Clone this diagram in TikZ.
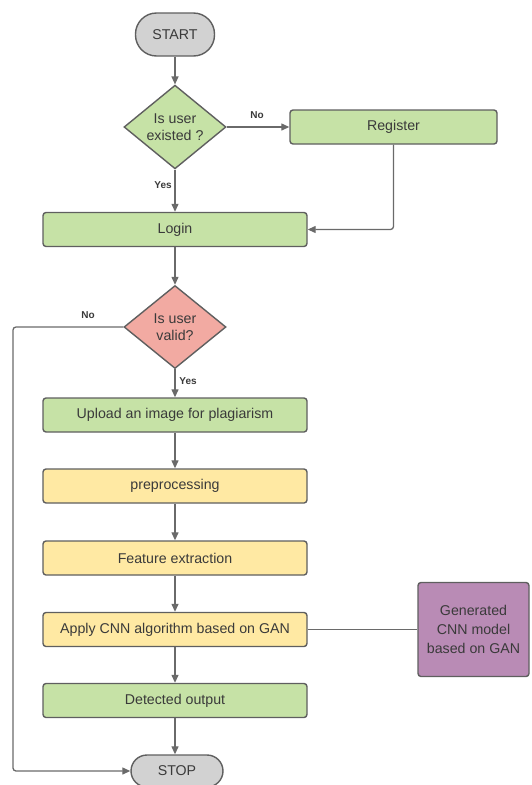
\documentclass[tikz,border=0pt]{standalone}
\usepackage{fontspec}
\setmainfont{Liberation Sans}
\usetikzlibrary{shapes.geometric,arrows.meta}
\definecolor{lgreen}{HTML}{C6E2A6}
\definecolor{lyellow}{HTML}{FFE9A3}
\definecolor{lpink}{HTML}{F2AAA2}
\definecolor{lpurple}{HTML}{B98BB5}
\definecolor{lgray}{HTML}{D2D2D2}
\definecolor{edgec}{HTML}{5F5F5F}
\definecolor{linec}{HTML}{6A6A6A}
\definecolor{txt}{HTML}{3A3A3A}
\begin{document}
\begin{tikzpicture}[x=1pt,y=-1pt,
  base/.style={draw=edgec, line width=1.4pt, text=txt, font=\fontsize{14.2}{17}\selectfont, inner sep=0pt, align=center},
  procbox/.style={base, rectangle, rounded corners=3pt, minimum width=264pt, minimum height=34pt},
  greenbox/.style={procbox, fill=lgreen},
  yellowbox/.style={procbox, fill=lyellow},
  terminal/.style={base, rectangle, fill=lgray},
  decision/.style={base, diamond, minimum width=102pt, minimum height=83pt},
  lbl/.style={text=txt, font=\fontsize{10}{12}\selectfont\bfseries, inner sep=0pt},
  conn/.style={draw=linec, line width=1.3pt},
  arr/.style={conn, -{Triangle[length=8pt,width=7pt]}}
]
\useasboundingbox (0,0) rectangle (531,785);

\node[terminal, rounded corners=21pt, minimum width=79pt, minimum height=43pt] (start) at (175,34.5) {START};
\node[decision, fill=lgreen] (d1) at (175,127) {Is user\\existed ?};
\node[greenbox, minimum width=207pt] (reg) at (393.5,127) {Register};
\node[greenbox] (login) at (175,229.5) {Login};
\node[decision, fill=lpink] (d2) at (175,327) {Is user\\valid?};
\node[greenbox] (upload) at (175,415) {Upload an image for plagiarism};
\node[yellowbox] (prep) at (175,486) {preprocessing};
\node[yellowbox] (feat) at (175,558) {Feature extraction};
\node[yellowbox] (apply) at (175,629.5) {Apply CNN algorithm based on GAN};
\node[greenbox] (det) at (175,700.5) {Detected output};
\node[terminal, rounded corners=16pt, minimum width=92pt, minimum height=32pt] (stop) at (177,771) {STOP};
\node[base, rectangle, rounded corners=3pt, fill=lpurple, minimum width=111pt, minimum height=94pt, font=\fontsize{14.2}{19}\selectfont] (gen) at (473.5,629.5) {Generated\\CNN model\\based on GAN};

\node[lbl] (no1) at (257,115) {No};
\node[lbl] (yes1) at (163,185) {Yes};
\node[lbl] (no2) at (88,315) {No};
\node[lbl] (yes2) at (188,381) {Yes};

\coordinate (c1) at (13,327);
\coordinate (c2) at (13,771);

\draw[arr] (start) -- (d1);
\draw[arr] (d1.east) -- (reg.west);
\draw[arr] (d1.south) -- (login.north);
\draw[arr, rounded corners=3pt] (reg.south) |- (login.east);
\draw[arr] (login) -- (d2);
\draw[arr, rounded corners=3pt] (d2.west) -- (c1) -- (c2) -- (stop.west);
\draw[arr] (d2.south) -- (upload.north);
\draw[arr] (upload) -- (prep);
\draw[arr] (prep) -- (feat);
\draw[arr] (feat) -- (apply);
\draw[arr] (apply) -- (det);
\draw[arr] (det) -- (stop.north -| det);
\draw[conn] (apply.east) -- (gen.west);
\end{tikzpicture}
\end{document}
